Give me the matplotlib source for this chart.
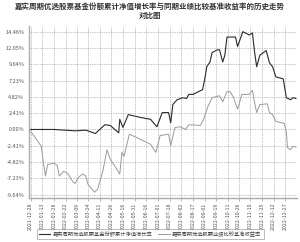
import matplotlib
matplotlib.use("Agg")
import matplotlib.pyplot as plt

plt.rcParams['font.family'] = ['Noto Sans CJK SC', 'DejaVu Sans']

# trading-day index and cumulative return (%)
fund_day = [0, 24, 44, 54, 63, 72, 77, 85, 86, 89, 94, 105, 115, 121, 126, 132, 134, 136,
            140, 145, 149, 151, 155, 164, 166, 168, 171, 173, 178, 180, 183, 185, 187, 195,
            197, 202, 208, 211, 213, 215, 218, 224, 227, 230, 233, 240, 243, 247, 249, 252]
fund_ret = [0.0, 0.0, -0.2, -0.1, -0.6, 0.7, 0.6, -0.5, 1.5, 0.3, 2.2, 1.8, 1.5, 0.4, 2.5, 2.5, 1.0, 3.7,
            4.4, 4.7, 4.6, 5.2, 5.2, 5.9, 7.4, 9.3, 10.0, 11.4, 11.8, 11.8, 10.0, 11.0, 13.7, 13.7,
            12.3, 14.5, 14.0, 14.3, 11.5, 9.3, 11.0, 11.7, 9.9, 9.3, 7.8, 7.5, 4.7, 4.4, 4.7, 4.6]

bench_day = [0, 4, 9, 12, 14, 16, 18, 24, 27, 29, 33, 37, 42, 44, 47, 51, 54, 56, 62, 65,
             70, 74, 77, 82, 86, 88, 90, 95, 102, 115, 120, 124, 132, 134, 138, 143, 148, 151,
             162, 165, 169, 173, 180, 183, 187, 190, 193, 197, 201, 208, 211, 213, 215, 218,
             225, 227, 230, 233, 241, 243, 244, 247, 249, 252]
bench_ret = [0.0, -0.7, -1.8, -2.5, -4.9, -6.9, -5.2, -5.0, -5.3, -6.9, -6.2, -6.5, -7.8, -8.0, -7.1, -6.6, -6.9, -8.1, -9.3, -8.9,
             -6.2, -3.0, -4.4, -5.6, -6.6, -3.4, -4.0, -0.7, -1.2, -2.2, -3.4, -0.9, -0.7, -2.4, 0.3, 0.4, 0.0, 0.7,
             0.6, 1.5, 3.4, 4.7, 5.0, 4.1, 5.6, 5.6, 4.8, 3.0, 5.2, 5.2, 5.8, 4.0, 2.5, 3.7,
             3.8, 2.5, 2.2, 1.2, 0.9, -0.4, -2.7, -3.0, -2.5, -2.6]

tick_days = [2, 13, 24, 35, 46, 56, 67, 78, 89, 100, 111, 122, 133, 144, 155, 166,
             177, 188, 198, 209, 220, 231, 242]
tick_dates = ["2021-12-28", "2022-01-13", "2022-01-28", "2022-02-22", "2022-03-09",
              "2022-03-24", "2022-04-11", "2022-04-26", "2022-05-16", "2022-05-31",
              "2022-06-16", "2022-07-01", "2022-07-18", "2022-08-02", "2022-08-17",
              "2022-09-01", "2022-09-19", "2022-10-11", "2022-10-26", "2022-11-10",
              "2022-11-25", "2022-12-12", "2022-12-27"]
y_ticks = [14.46, 12.05, 9.64, 7.23, 4.82, 2.41, 0.00, -2.41, -4.82, -7.23, -9.64]

fig = plt.figure(figsize=(3.0, 2.42), dpi=100)
ax = fig.add_axes([0.095, 0.182, 0.895, 0.711])

ax.plot(fund_day, fund_ret, color="#2a2a2a", lw=0.8,
        label="嘉实周期优选股票基金份额累计净值增长率")
ax.plot(bench_day, bench_ret, color="#9a9a9a", lw=0.7,
        label="嘉实周期优选股票业绩比较基准收益率")

ax.set_xlim(0, 253)
ax.set_ylim(-10.15, 15.35)
ax.set_yticks(y_ticks)
ax.set_yticklabels([f"{v:.2f}%" for v in y_ticks])
ax.set_xticks(tick_days)
ax.set_xticklabels(tick_dates, rotation=90)
ax.tick_params(axis="y", length=0, labelsize=4, labelcolor="#555555", pad=3)
ax.tick_params(axis="x", length=2, width=0.5, color="#999999", labelsize=3.8,
               labelcolor="#555555", pad=1.5)
ax.grid(True, color="#888888", lw=0.5, ls=(0, (1, 1.5)))
for s in ["top", "right"]:
    ax.spines[s].set_visible(False)
ax.spines["left"].set_color("#aaaaaa")
ax.spines["left"].set_linewidth(1.0)
ax.spines["bottom"].set_color("#aaaaaa")
ax.spines["bottom"].set_linewidth(1.0)

fig.text(0.5, 0.975, "嘉实周期优选股票基金份额累计净值增长率与同期业绩比较基准收益率的历史走势",
         ha="center", va="center", fontsize=5.4, fontweight="bold", color="#333333")
fig.text(0.5, 0.938, "对比图", ha="center", va="center", fontsize=5.4,
         fontweight="bold", color="#333333")

leg = fig.legend(loc="center", bbox_to_anchor=(0.5, 0.033), ncol=2, fontsize=3.8,
                 frameon=True, fancybox=False, edgecolor="#888888", handlelength=2.2,
                 handletextpad=0.4, columnspacing=1.2, borderpad=0.4)
leg.get_frame().set_linewidth(0.5)
for t in leg.get_texts():
    t.set_color("#444444")

fig.savefig("out.png", dpi=100)
